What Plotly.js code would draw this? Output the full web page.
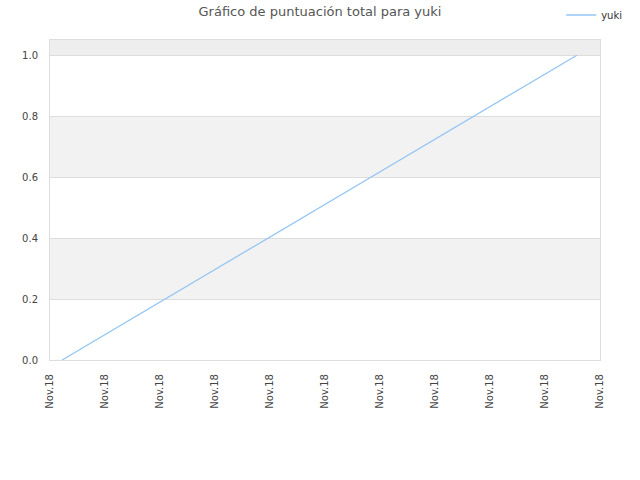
<!DOCTYPE html>
<html>
<head>
<meta charset="utf-8">
<script src="https://cdn.plot.ly/plotly-3.0.1.min.js"></script>
<style>body{margin:0;} #chart{width:640px;height:480px;}</style>
</head>
<body>
<div id="chart"></div>
<script>
// series
var seriesName = "yuki";
var xPos = [0.22, 9.58];
var scores = [0, 1];

// tick labels
var tickPos = [0, 1, 2, 3, 4, 5, 6, 7, 8, 9, 10];
var tickLabels = ["Nov.18", "Nov.18", "Nov.18", "Nov.18", "Nov.18", "Nov.18",
                  "Nov.18", "Nov.18", "Nov.18", "Nov.18", "Nov.18"];
var yTickPos = [0, 0.2, 0.4, 0.6, 0.8, 1.0];
var yTickLabels = ["0.0", "0.2", "0.4", "0.6", "0.8", "1.0"];

function createGraph() {
    var trace = {
        x: xPos,
        y: scores,
        name: seriesName,
        type: "scatter",
        mode: "lines",
        line: {color: "#96c6f4", width: 1.3}
    };

    // alternating background bands
    var bands = [
        {y0: 1.0, y1: 1.05, color: "#eeeeee"},
        {y0: 0.6, y1: 0.8, color: "#f2f2f2"},
        {y0: 0.2, y1: 0.4, color: "#f2f2f2"}
    ];
    var shapes = bands.map(function (b) {
        return {type: "rect", xref: "paper", yref: "y", x0: 0, x1: 1,
                y0: b.y0, y1: b.y1, fillcolor: b.color, line: {width: 0}, layer: "below"};
    });

    var layout = {
        width: 640, height: 480,
        margin: {l: 50, r: 40, t: 40, b: 120, autoexpand: false},
        paper_bgcolor: "#ffffff",
        plot_bgcolor: "#ffffff",
        font: {family: "DejaVu Sans", size: 10, color: "#444"},
        title: {text: "Gráfico de puntuación total para yuki", x: 0.5, y: 0.985,
                xanchor: "center", yanchor: "top",
                font: {family: "DejaVu Sans", size: 13, color: "#555"}},
        showlegend: true,
        legend: {xref: "container", yref: "container", x: 0.98, y: 0.999,
                 xanchor: "right", yanchor: "top",
                 font: {size: 10, color: "#333"}, bgcolor: "rgba(0,0,0,0)"},
        xaxis: {range: [0, 10], tickvals: tickPos, ticktext: tickLabels,
                tickangle: -90, showgrid: false, zeroline: false,
                showline: true, linecolor: "#dddddd", mirror: true,
                ticks: "outside", ticklen: 9, tickcolor: "rgba(0,0,0,0)",
                tickfont: {size: 10, color: "#444"}},
        yaxis: {range: [0, 1.05], tickvals: yTickPos, ticktext: yTickLabels,
                showgrid: true, gridcolor: "#dddddd", zeroline: false,
                showline: true, linecolor: "#dddddd", mirror: true,
                ticks: "outside", ticklen: 9, tickcolor: "rgba(0,0,0,0)",
                tickfont: {size: 10, color: "#444"}},
        shapes: shapes
    };

    Plotly.newPlot("chart", [trace], layout, {displayModeBar: false});
}

createGraph();
</script>
</body>
</html>
